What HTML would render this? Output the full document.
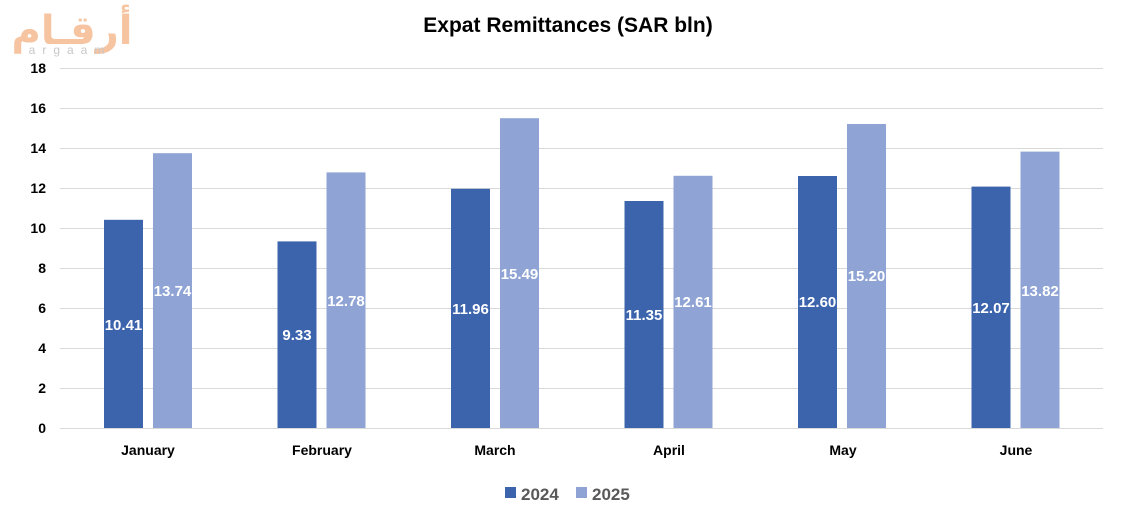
<!DOCTYPE html>
<html><head><meta charset="utf-8"><style>
html,body{margin:0;padding:0;background:#fff;}
svg{display:block;font-family:"Liberation Sans",Arial,sans-serif;}
</style></head><body>
<svg width="1124" height="513" xmlns="http://www.w3.org/2000/svg">
<rect width="1124" height="513" fill="#fff"/>
<!-- logo -->
<g fill="#f7c9a8" font-family="'Liberation Sans','Noto Sans CJK SC',sans-serif">
<text x="72" y="44" font-size="40" font-weight="bold" text-anchor="middle" fill="#f6c4a0" font-family="'DejaVu Sans',sans-serif">أرقـام</text>
<text x="70" y="54" font-size="12" text-anchor="middle" letter-spacing="7" fill="#c8c8c8">argaam</text>
</g>
<text x="568" y="32" font-size="21" font-weight="bold" text-anchor="middle" fill="#000">Expat Remittances (SAR bln)</text>
<g stroke="#d9d9d9" stroke-width="1">
<line x1="60" x2="1103" y1="68.5" y2="68.5"/>
<line x1="60" x2="1103" y1="108.5" y2="108.5"/>
<line x1="60" x2="1103" y1="148.5" y2="148.5"/>
<line x1="60" x2="1103" y1="188.5" y2="188.5"/>
<line x1="60" x2="1103" y1="228.5" y2="228.5"/>
<line x1="60" x2="1103" y1="268.5" y2="268.5"/>
<line x1="60" x2="1103" y1="308.5" y2="308.5"/>
<line x1="60" x2="1103" y1="348.5" y2="348.5"/>
<line x1="60" x2="1103" y1="388.5" y2="388.5"/>
<line x1="60" x2="1103" y1="428.5" y2="428.5"/>
</g>
<g font-size="14" font-weight="bold" text-anchor="end" fill="#000">
<text x="46" y="73">18</text><text x="46" y="113">16</text><text x="46" y="153">14</text>
<text x="46" y="193">12</text><text x="46" y="233">10</text><text x="46" y="273">8</text>
<text x="46" y="313">6</text><text x="46" y="353">4</text><text x="46" y="393">2</text><text x="46" y="433">0</text>
</g>
<g id="bars">
<rect x="104" y="219.8" width="39" height="208.2" fill="#3c64ad"/><rect x="153" y="153.2" width="39" height="274.8" fill="#8fa4d4"/>
<rect x="277.5" y="241.4" width="39" height="186.6" fill="#3c64ad"/><rect x="326.5" y="172.4" width="39" height="255.6" fill="#8fa4d4"/>
<rect x="451" y="188.8" width="39" height="239.2" fill="#3c64ad"/><rect x="500" y="118.2" width="39" height="309.8" fill="#8fa4d4"/>
<rect x="624.5" y="201" width="39" height="227" fill="#3c64ad"/><rect x="673.5" y="175.8" width="39" height="252.2" fill="#8fa4d4"/>
<rect x="798" y="176" width="39" height="252" fill="#3c64ad"/><rect x="847" y="124" width="39" height="304" fill="#8fa4d4"/>
<rect x="971.5" y="186.6" width="39" height="241.4" fill="#3c64ad"/><rect x="1020.5" y="151.6" width="39" height="276.4" fill="#8fa4d4"/>
</g>
<g font-size="15" font-weight="bold" text-anchor="middle" fill="#fff">
<text x="123.5" y="330">10.41</text><text x="172.5" y="296">13.74</text>
<text x="297" y="340">9.33</text><text x="346" y="306">12.78</text>
<text x="470.5" y="314">11.96</text><text x="519.5" y="279">15.49</text>
<text x="644" y="320">11.35</text><text x="693" y="307">12.61</text>
<text x="817.5" y="307">12.60</text><text x="866.5" y="281">15.20</text>
<text x="991" y="313">12.07</text><text x="1040" y="296">13.82</text>
</g>
<g font-size="14" font-weight="bold" text-anchor="middle" fill="#000">
<text x="148" y="455">January</text><text x="322" y="455">February</text><text x="495" y="455">March</text>
<text x="669" y="455">April</text><text x="843" y="455">May</text><text x="1016" y="455">June</text>
</g>
<rect x="505" y="487" width="11" height="11" fill="#3c64ad"/>
<text x="521" y="500" font-size="17" font-weight="bold" fill="#595959">2024</text>
<rect x="576" y="487" width="11" height="11" fill="#8fa4d4"/>
<text x="592" y="500" font-size="17" font-weight="bold" fill="#595959">2025</text>
</svg>
</body></html>
